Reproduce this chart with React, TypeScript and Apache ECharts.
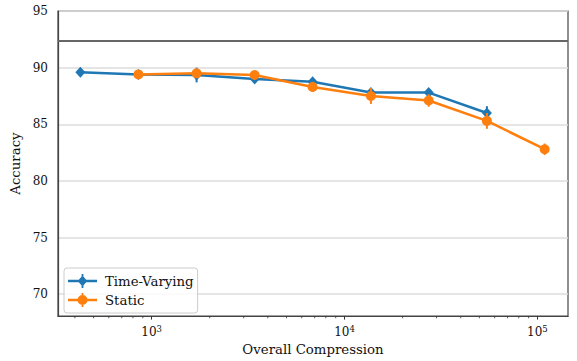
import React, { useEffect, useRef } from 'react';
import * as echarts from 'echarts';

const compression = [427, 854, 1710, 3420, 6830, 13700, 27300, 54700, 109000];
const timeVaryingAcc = [89.6, 89.4, 89.35, 89.0, 88.75, 87.8, 87.8, 86.0, null];
const timeVaryingErr = [0.3, 0.15, 0.65, 0.25, 0.3, 0.3, 0.3, 0.6, null];
const staticAcc = [null, 89.4, 89.5, 89.35, 88.3, 87.5, 87.1, 85.3, 82.8];
const staticErr = [null, 0.15, 0.2, 0.2, 0.45, 0.7, 0.55, 0.7, 0.5];
const referenceAcc = 92.33;
const yTicks = [70, 75, 80, 85, 90, 95];
const xMajorTicks = [1000, 10000, 100000];
const xMinorTicks = [
  400, 500, 600, 700, 800, 900,
  2000, 3000, 4000, 5000, 6000, 7000, 8000, 9000,
  20000, 30000, 40000, 50000, 60000, 70000, 80000, 90000,
];

const X_MIN = 327;
const X_MAX = 144000;
const Y_MIN = 68.07;
const Y_MAX = 95;

const BLUE = '#1f77b4';
const ORANGE = '#ff7f0e';
const FONT = 'DejaVu Serif';

const pairs = (acc: (number | null)[]) =>
  compression.map((c, i) => (acc[i] == null ? null : [c, acc[i]])).filter((d) => d !== null);
const errTriples = (acc: (number | null)[], err: (number | null)[]) =>
  compression
    .map((c, i) => (acc[i] == null ? null : [c, acc[i], err[i]]))
    .filter((d) => d !== null);

const errRender = (color: string) => (params: any, api: any) => {
  const x = api.value(0);
  const y = api.value(1);
  const e = api.value(2);
  const p1 = api.coord([x, y - e]);
  const p2 = api.coord([x, y + e]);
  return {
    type: 'line',
    shape: { x1: p1[0], y1: p1[1], x2: p2[0], y2: p2[1] },
    style: { stroke: color, lineWidth: 2 },
  };
};

const LINE_PART = 'M0 5.8 H29 V8.2 H0 Z M13.6 0 H15.4 V14 H13.6 Z';
const diamondIcon = 'path://' + LINE_PART + ' M14.5 1.5 L19.3 7 L14.5 12.5 L9.7 7 Z';
const circleIcon =
  'path://' + LINE_PART + ' M9.5 7 A5 5 0 1 1 19.5 7 A5 5 0 1 1 9.5 7 Z';

export default function App() {
  const ref = useRef<HTMLDivElement>(null);
  useEffect(() => {
    if (!ref.current) return;
    const chart = echarts.init(ref.current, undefined, { renderer: 'svg' });
    chart.setOption({
      animation: false,
      backgroundColor: '#fff',
      textStyle: { fontFamily: FONT },
      grid: {
        left: 58,
        right: 9,
        top: 11,
        bottom: 43,
        show: true,
        borderColor: '#444',
        borderWidth: 1.2,
        backgroundColor: 'transparent',
      },
      legend: {
        orient: 'vertical',
        left: 64,
        top: 268,
        padding: [6, 4, 6, 4],
        itemGap: 5,
        itemWidth: 29,
        itemHeight: 14,
        borderColor: '#ccc',
        borderWidth: 1,
        borderRadius: 3,
        backgroundColor: 'rgba(255,255,255,0.85)',
        textStyle: { fontFamily: FONT, fontSize: 13.3, color: '#111', padding: [0, 0, 0, 3], lineHeight: 14 },
        data: [
          { name: 'Time-Varying', icon: diamondIcon },
          { name: 'Static', icon: circleIcon },
        ],
      },
      xAxis: {
        type: 'log',
        logBase: 10,
        min: X_MIN,
        max: X_MAX,
        name: 'Overall Compression',
        nameLocation: 'middle',
        nameGap: 26,
        nameTextStyle: { fontFamily: FONT, fontSize: 13.3, color: '#111' },
        axisLine: { show: true, lineStyle: { color: '#444', width: 1.2 } },
        axisTick: {
          show: true,
          inside: false,
          length: 3.5,
          lineStyle: { color: '#333', width: 1 },
          customValues: xMajorTicks,
        },
        axisLabel: {
          customValues: xMajorTicks,
          margin: 8,
          fontFamily: FONT,
          formatter: (v: number) => '{b|10}{s|' + Math.round(Math.log10(v)) + '}',
          rich: {
            b: { fontFamily: FONT, fontSize: 12, color: '#111' },
            s: { fontFamily: FONT, fontSize: 8.5, color: '#111', padding: [0, 0, 7, 0] },
          },
        },
        splitLine: { show: false },
      },
      yAxis: {
        type: 'value',
        min: Y_MIN,
        max: Y_MAX,
        name: 'Accuracy',
        nameLocation: 'middle',
        nameGap: 31,
        nameTextStyle: { fontFamily: FONT, fontSize: 13.3, color: '#111' },
        axisLine: { show: true, lineStyle: { color: '#444', width: 1.2 } },
        axisTick: { show: false, customValues: yTicks },
        axisLabel: {
          customValues: yTicks,
          fontFamily: FONT,
          fontSize: 12,
          color: '#111',
          margin: 10,
        },
        splitLine: { show: true, lineStyle: { color: '#dcdcdc', width: 1.6 } },
      },
      series: [
        {
          name: 'Time-Varying-err',
          type: 'custom',
          z: 2,
          renderItem: errRender(BLUE),
          encode: { x: 0, y: 1 },
          data: errTriples(timeVaryingAcc, timeVaryingErr),
          silent: true,
        },
        {
          name: 'Time-Varying',
          type: 'line',
          z: 3,
          data: pairs(timeVaryingAcc),
          symbol: 'diamond',
          symbolSize: [10, 11],
          showAllSymbol: true,
          lineStyle: { color: BLUE, width: 2.5 },
          itemStyle: { color: BLUE },
          markLine: {
            silent: true,
            symbol: 'none',
            label: { show: false },
            lineStyle: { color: '#666', width: 2, type: 'solid' },
            data: [{ yAxis: referenceAcc }],
          },
        },
        {
          name: 'Static-err',
          type: 'custom',
          z: 4,
          renderItem: errRender(ORANGE),
          encode: { x: 0, y: 1 },
          data: errTriples(staticAcc, staticErr),
          silent: true,
        },
        {
          name: 'Static',
          type: 'line',
          z: 5,
          data: pairs(staticAcc),
          symbol: 'circle',
          symbolSize: 10,
          showAllSymbol: true,
          lineStyle: { color: ORANGE, width: 2.5 },
          itemStyle: { color: ORANGE },
        },
        {
          name: 'minor-ticks',
          type: 'custom',
          z: 1,
          silent: true,
          clip: false,
          encode: { x: 0, y: 1 },
          data: xMinorTicks.map((v) => [v, Y_MIN]),
          renderItem: (params: any, api: any) => {
            const p = api.coord([api.value(0), api.value(1)]);
            return {
              type: 'line',
              shape: { x1: p[0], y1: p[1], x2: p[0], y2: p[1] + 2.2 },
              style: { stroke: '#333', lineWidth: 0.8 },
            };
          },
        },
      ],
    });
    return () => chart.dispose();
  }, []);
  return <div ref={ref} style={{ width: 577, height: 361, position: 'fixed', left: 0, top: 0 }} />;
}
